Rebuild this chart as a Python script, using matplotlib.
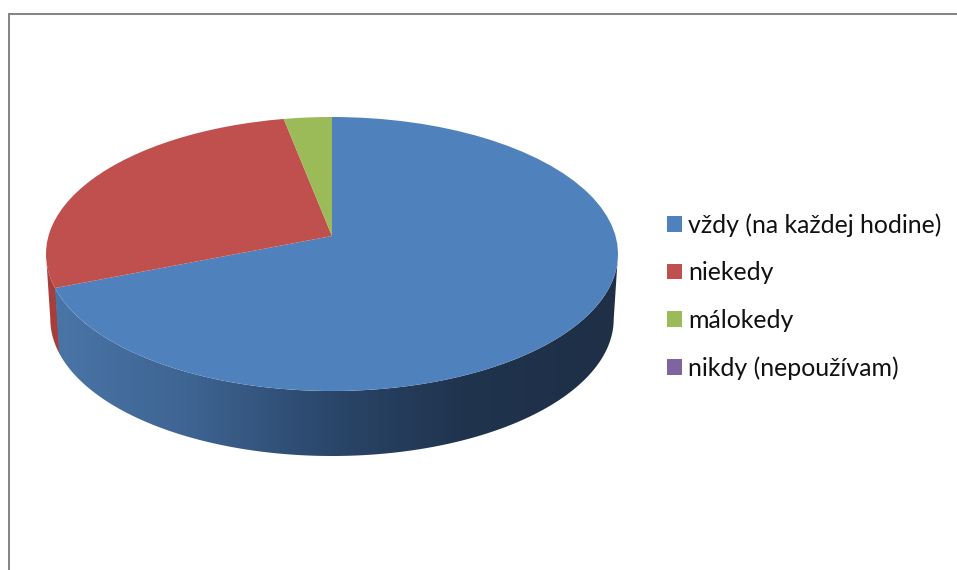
import numpy as np
import matplotlib
matplotlib.use('Agg')
import matplotlib.pyplot as plt
from matplotlib.patches import Polygon, Rectangle

W, H = 957, 570

categories = ['vždy (na každej hodine)', 'niekedy', 'málokedy', 'nikdy (nepoužívam)']
values = [71.0, 26.3, 2.7, 0.0]
colors = ['#4F81BD', '#C0504D', '#9BBB59', '#8064A2']
wall_red = '#A63F3B'

# shading of the blue side wall, left to right
shade_x = [-1.0, -0.5, 0.0, 0.45, 1.0]
shade_rgb = [(74, 118, 168), (62, 100, 146), (42, 70, 106), (32, 52, 78), (30, 47, 70)]

# pie geometry, in pixels
cx, cy, rx, ry, depth = 332, 254, 286, 137, 65
apex_y = 236  # perspective moves the point where the slices meet above the ellipse centre
bottom_scale = 0.985


def wall_outline(t_start, t_end):
    ''' Outline of the side wall between two ellipse angles (degrees). '''
    t = np.radians(np.linspace(t_start, t_end, 200))
    top = np.column_stack([np.cos(t), np.sin(t)])
    low = np.column_stack([np.cos(t) * bottom_scale, np.sin(t) - depth / ry])
    return np.vstack([top, low[::-1]])


plt.rcParams['font.family'] = ['Lato', 'DejaVu Sans']
fig = plt.figure(figsize=(W / 100, H / 100), dpi=100)
fig.patches.append(Rectangle((9 / W, -0.1), 2, 1.1 - 14 / H, transform=fig.transFigure,
                             fill=False, edgecolor='#868686', linewidth=1.45))

ax = fig.add_axes([(cx - rx) / W, 1 - (cy + ry + depth) / H, 2 * rx / W, (2 * ry + depth) / H])
wedges, _ = ax.pie(values, colors=colors, startangle=90, counterclock=False, radius=1.0)
for w in wedges:
    w.set_linewidth(0)
    w.set_zorder(3)
    verts = w.get_path().vertices
    verts[np.hypot(verts[:, 0], verts[:, 1]) < 1e-6, 1] = (cy - apex_y) / ry
ax.set_aspect('auto')

# side wall: red part, then the blue part with its gradient clipped to the outline
blue_end = 90 - 360 * values[0] / sum(values) + 360
ax.add_patch(Polygon(wall_outline(180, blue_end + 0.5), facecolor=wall_red, linewidth=0, zorder=1))
blue_wall = Polygon(wall_outline(blue_end, 360), facecolor='none', linewidth=0, zorder=1)
ax.add_patch(blue_wall)
xs = np.linspace(-1, 1, 600)
gradient = np.stack([np.interp(xs, shade_x, [s[i] for s in shade_rgb]) for i in range(3)], axis=-1)
img = ax.imshow(gradient[np.newaxis] / 255, extent=(-1, 1, -1 - depth / ry, 1), aspect='auto', zorder=2)
img.set_clip_path(blue_wall)

ax.set_xlim(-1, 1)
ax.set_ylim(-1 - depth / ry, 1)

leg = fig.legend(wedges, categories, loc='upper left', bbox_to_anchor=(667 / W, 1 - 213 / H),
                 frameon=False, fontsize=17.9, handlelength=0.6, handleheight=0.6,
                 handletextpad=0.24, labelspacing=0.99, borderpad=0, borderaxespad=0,
                 labelcolor='#111111')

fig.savefig('out.png', dpi=100)
